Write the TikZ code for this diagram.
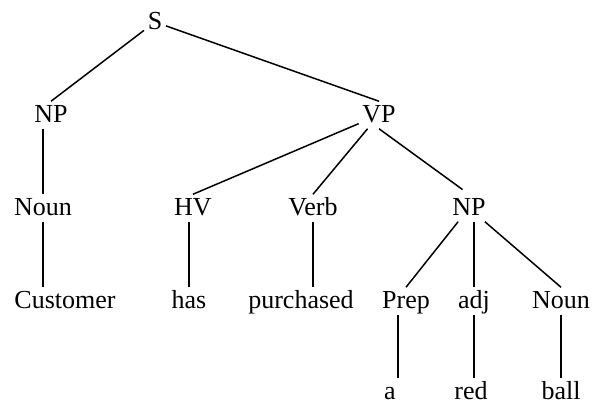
\documentclass[tikz,border=0pt]{standalone}
\usepackage{fontspec}
\setmainfont{Liberation Serif}
\newfontfamily\treefont{Liberation Serif}

\begin{document}
\begin{tikzpicture}[
                x=1pt, y=-1pt, line width=1.5pt,
                treenode/.style = {anchor=base, inner xsep=3pt, inner ysep=2pt, text height=18pt, text depth=4pt,
                                   font=\treefont\fontsize{26}{30}\selectfont}
        ]
        \useasboundingbox (0,0) rectangle (595,405);
        \node[treenode] (S)     at (155,29)  {S};
        \node[treenode] (NPa)   at (51,122)  {NP};
        \node[treenode] (VP)    at (379,122) {VP};
        \node[treenode] (Nouna) at (43,215)  {Noun};
        \node[treenode] (HV)    at (193,215) {HV};
        \node[treenode] (Verb)  at (313,215) {Verb};
        \node[treenode] (NPb)   at (469,215) {NP};
        \node[treenode] (Cust)  at (65,308)  {Customer};
        \node[treenode] (has)   at (189,308) {has};
        \node[treenode] (purch) at (301,308) {purchased};
        \node[treenode] (Prep)  at (406,308) {Prep};
        \node[treenode] (adj)   at (474,308) {adj};
        \node[treenode] (Nounb) at (561,308) {Noun};
        \node[treenode, text depth=0pt] (a)     at (390,399) {a};
        \node[treenode, text depth=0pt] (red)   at (471,399) {red};
        \node[treenode, text depth=0pt] (ball)  at (561,399) {ball};

        \draw (S) -- (NPa.north);
        \draw (S) -- (VP.north);
        \draw (Nouna.north) -- (Nouna.north |- NPa.south);
        \draw (Nouna.south) -- (Nouna.south |- Cust.north);
        \draw (VP) -- (HV.north);
        \draw (VP) -- (Verb.north);
        \draw[shorten >=8pt] (VP.south) -- (NPb.north);
        \draw (has.north) -- (has.north |- HV.south);
        \draw (Verb.south) -- (Verb.south |- purch.north);
        \draw (NPb) -- (Prep.north);
        \draw (adj.north) -- (adj.north |- NPb.south);
        \draw (NPb) -- (Nounb.north);
        \draw ([xshift=-8pt]Prep.south) -- ([xshift=8pt]a.north);
        \draw (adj.south) -- (adj.south |- red.north);
        \draw (Nounb.south) -- (Nounb.south |- ball.north);
\end{tikzpicture}
\end{document}
